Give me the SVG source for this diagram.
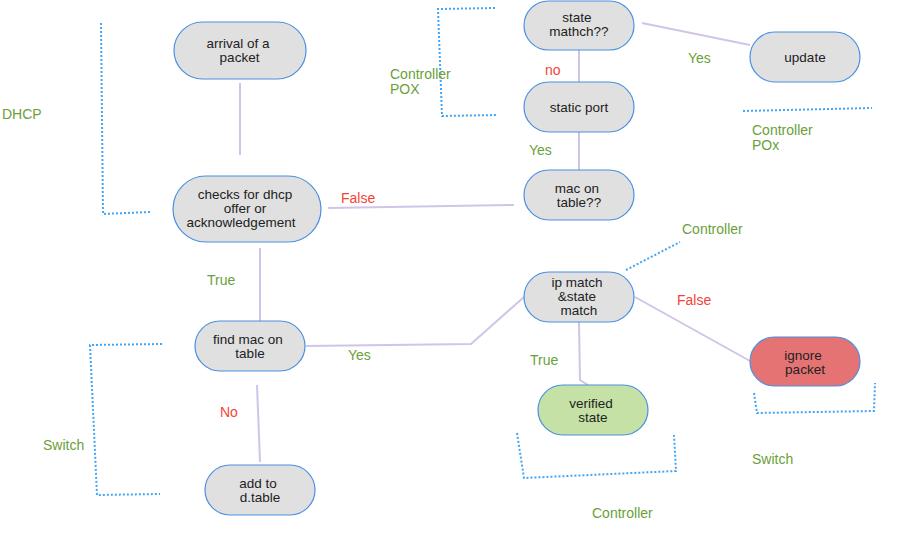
<svg xmlns="http://www.w3.org/2000/svg" width="901" height="545" viewBox="0 0 901 545">
<style>
.n{fill:#e0e0e0;stroke:#4a90e2;stroke-width:1.2}
.g{fill:#c5e1a5}
.r{fill:#e57373}
.t{font-family:"Liberation Sans",Arial,sans-serif;font-size:13.5px;fill:#222;text-anchor:middle}
.c{fill:none;stroke:#d1c4e9;stroke-width:2}
.d{fill:none;stroke:#42a5f5;stroke-width:2;stroke-dasharray:2 2}
.lg{font-family:"Liberation Sans",Arial,sans-serif;font-size:14px;fill:#6a9f3a}
.lr{font-family:"Liberation Sans",Arial,sans-serif;font-size:14px;fill:#f44336}
</style>
<rect width="901" height="545" fill="#fff"/>
<g id="connectors">
<path class="c" d="M240,83 L240,155"/>
<path class="c" d="M328,208 L514,205"/>
<path class="c" d="M579,50 L579,82"/>
<path class="c" d="M579,132 L579,170"/>
<path class="c" d="M642,23 L750,45"/>
<path class="c" d="M260,248 L260,321"/>
<path class="c" d="M257,385 L260,462"/>
<path class="c" d="M306,346 L471,344 L524,297"/>
<path class="c" d="M579,322 L580,380 L588,385"/>
<path class="c" d="M635,297 L750,361"/>
</g>
<g id="brackets">
<path class="d" d="M101,23 L103,214 L150,212"/>
<path class="d" d="M495,8 L438,9 L442,116 L498,115"/>
<path class="d" d="M743,111 L872,108"/>
<path class="d" d="M626,270 L680,242"/>
<path class="d" d="M162,344 L90,345 L97,495 L160,494"/>
<path class="d" d="M517,433 L524,478 L676,471 L674,435"/>
<path class="d" d="M754,393 L757,413 L874,411 L875,383"/>
</g>
<g id="n-arrival"><rect class="n" x="174" y="22" width="132" height="57" rx="28.5"/><text class="t" x="238" y="48">arrival of a</text><text class="t" x="239.5" y="62">packet</text></g>
<g id="n-checks"><rect class="n" x="173" y="176" width="148" height="66" rx="33"/><text class="t" x="245" y="199">checks for dhcp</text><text class="t" x="245" y="213">offer or</text><text class="t" x="241" y="227">acknowledgement</text></g>
<g id="n-state"><rect class="n" x="524" y="1" width="110" height="49" rx="24.5"/><text class="t" x="577" y="22">state</text><text class="t" x="579" y="36">mathch??</text></g>
<g id="n-update"><rect class="n" x="750" y="32" width="110" height="50" rx="25"/><text class="t" x="805" y="62">update</text></g>
<g id="n-static"><rect class="n" x="524" y="82" width="110" height="50" rx="25"/><text class="t" x="579" y="112">static port</text></g>
<g id="n-mac"><rect class="n" x="524" y="170" width="110" height="50" rx="25"/><text class="t" x="577" y="193">mac on</text><text class="t" x="579" y="207">table??</text></g>
<g id="n-find"><rect class="n" x="195" y="321" width="110" height="50" rx="25"/><text class="t" x="248" y="344">find mac on</text><text class="t" x="250" y="358">table</text></g>
<g id="n-add"><rect class="n" x="205" y="465" width="110" height="50" rx="25"/><text class="t" x="258" y="488">add to</text><text class="t" x="260" y="502">d.table</text></g>
<g id="n-ip"><rect class="n" x="524" y="272" width="110" height="50" rx="25"/><text class="t" x="577" y="287">ip match</text><text class="t" x="577" y="301">&amp;state</text><text class="t" x="579" y="315">match</text></g>
<g id="n-verified"><rect class="n g" x="538" y="385" width="110" height="50" rx="25"/><text class="t" x="591" y="408">verified</text><text class="t" x="593" y="422">state</text></g>
<g id="n-ignore"><rect class="n r" x="750" y="337" width="110" height="49" rx="24.5"/><text class="t" x="803" y="360">ignore</text><text class="t" x="805" y="374">packet</text></g>
<g id="labels">
<text class="lg" x="2" y="119">DHCP</text>
<text class="lg" x="390" y="79">Controller</text>
<text class="lg" x="390" y="94">POX</text>
<text class="lr" x="545" y="75">no</text>
<text class="lg" x="688" y="63">Yes</text>
<text class="lg" x="529" y="155">Yes</text>
<text class="lg" x="752" y="135">Controller</text>
<text class="lg" x="752" y="150">POx</text>
<text class="lr" x="341" y="203">False</text>
<text class="lg" x="682" y="234">Controller</text>
<text class="lg" x="207" y="285">True</text>
<text class="lg" x="348" y="360">Yes</text>
<text class="lr" x="220" y="417">No</text>
<text class="lg" x="43" y="450">Switch</text>
<text class="lg" x="530" y="365">True</text>
<text class="lr" x="677" y="305">False</text>
<text class="lg" x="752" y="464">Switch</text>
<text class="lg" x="592" y="518">Controller</text>
</g>
</svg>
